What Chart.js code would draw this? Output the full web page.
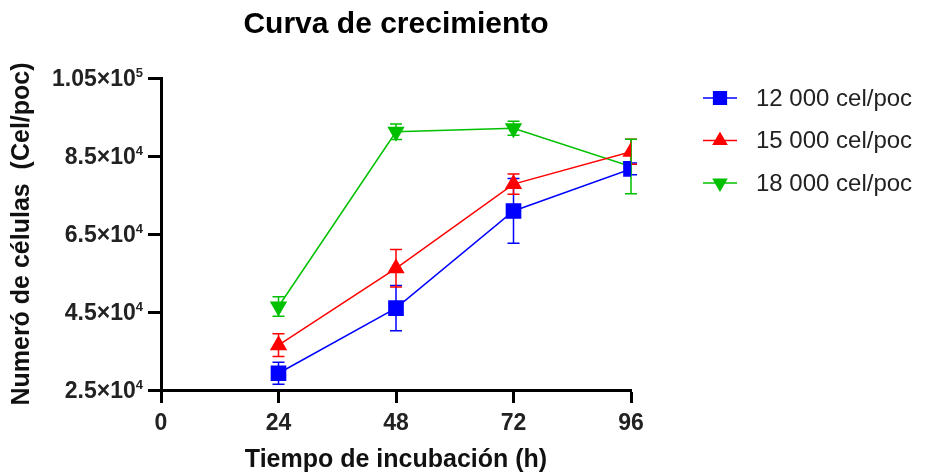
<!DOCTYPE html>
<html>
<head>
<meta charset="utf-8">
<script src="https://cdn.jsdelivr.net/npm/chart.js@4"></script>
<style>
  body { margin: 0; background: #fff; }
  #wrap { width: 928px; height: 472px; }
</style>
</head>
<body>
<div id="wrap"><canvas id="chart" width="928" height="472"></canvas></div>
<script>
// time points (h)
const hours = [24, 48, 72, 96];
const xTicks = [0, 24, 48, 72, 96];
const yTicks = [25000, 45000, 65000, 85000, 105000];
// tick labels: mantissa and power of ten
const yTickBase = ['2.5', '4.5', '6.5', '8.5', '1.05'];
const yTickExp = ['4', '4', '4', '4', '5'];

// mean cell counts and error (SD)
const cells12k = [29300, 46000, 70900, 81700];
const err12k = [2800, 5800, 8300, 1500];
const cells15k = [36500, 56200, 77800, 86100];
const err15k = [2900, 4800, 2600, 3200];
const cells18k = [46400, 91200, 92100, 82300];
const err18k = [2500, 2000, 1800, 7000];

const seriesNames = ['12 000 cel/poc', '15 000 cel/poc', '18 000 cel/poc'];
const seriesColors = ['#0000ff', '#ff0000', '#00c000'];
const seriesMarkers = ['rect', 'triangle', 'triangle'];

const FONT = '"Liberation Sans", Arial, sans-serif';
const toPoints = (vals) => vals.map((v, i) => ({ x: hours[i], y: v }));

// error bars drawn through the scales
const errorBars = {
  id: 'errorBars',
  beforeDatasetsDraw(chart) {
    const { ctx, scales: { x, y } } = chart;
    chart.data.datasets.forEach((ds) => {
      ctx.save();
      ctx.strokeStyle = ds.borderColor;
      ctx.lineWidth = 1.5;
      ds.data.forEach((p, i) => {
        const e = ds.errors[i];
        const px = x.getPixelForValue(p.x);
        const top = y.getPixelForValue(p.y + e);
        const bot = y.getPixelForValue(p.y - e);
        ctx.beginPath();
        ctx.moveTo(px, top); ctx.lineTo(px, bot);
        ctx.moveTo(px - 6, top); ctx.lineTo(px + 6, top);
        ctx.moveTo(px - 6, bot); ctx.lineTo(px + 6, bot);
        ctx.stroke();
      });
      ctx.restore();
    });
  }
};

// title, y tick labels with superscripts, legend with line through marker
const extras = {
  id: 'extras',
  afterDraw(chart) {
    const { ctx, chartArea, scales: { y } } = chart;
    ctx.save();
    ctx.fillStyle = '#000';
    ctx.font = 'bold 30px ' + FONT;
    ctx.textAlign = 'center';
    ctx.textBaseline = 'middle';
    ctx.fillText('Curva de crecimiento', (chartArea.left + chartArea.right) / 2, 25);

    // y tick labels
    ctx.fillStyle = '#222';
    ctx.textBaseline = 'alphabetic';
    yTicks.forEach((v, i) => {
      const py = y.getPixelForValue(v);
      const right = chartArea.left - 18;
      ctx.font = 'bold 13px ' + FONT;
      const ew = ctx.measureText(yTickExp[i]).width;
      ctx.textAlign = 'right';
      ctx.fillText(yTickExp[i], right, py - 1);
      ctx.font = 'bold 23px ' + FONT;
      ctx.fillText(yTickBase[i] + '×10', right - ew, py + 8);
    });

    ctx.textAlign = 'left';
    ctx.textBaseline = 'middle';
    ctx.font = '24px ' + FONT;
    chart.data.datasets.forEach((ds, i) => {
      const ly = 98 + i * 42.5;
      const lx = 703;
      ctx.strokeStyle = ds.borderColor;
      ctx.lineWidth = 1.5;
      ctx.beginPath();
      ctx.moveTo(lx, ly); ctx.lineTo(lx + 34, ly);
      ctx.stroke();
      ctx.fillStyle = ds.borderColor;
      Chart.helpers.drawPoint(ctx, {
        pointStyle: ds.pointStyle, radius: ds.pointStyle === 'rect' ? 9 : 7.5,
        rotation: ds.pointRotation || 0, borderWidth: 1
      }, lx + 17, ly);
      ctx.fillStyle = '#222';
      ctx.fillText(ds.label, lx + 53, ly + 1);
    });
    ctx.restore();
  }
};

const datasets = [cells12k, cells15k, cells18k].map((vals, i) => ({
  label: seriesNames[i],
  data: toPoints(vals),
  errors: [err12k, err15k, err18k][i],
  borderColor: seriesColors[i],
  backgroundColor: seriesColors[i],
  borderWidth: 1.5,
  pointStyle: seriesMarkers[i],
  pointRotation: i === 2 ? 180 : 0,
  pointRadius: i === 0 ? 10 : 8.5,
  pointHoverRadius: i === 0 ? 10 : 8.5,
  tension: 0
}));

new Chart(document.getElementById('chart'), {
  type: 'line',
  data: { datasets },
  options: {
    responsive: false,
    animation: false,
    layout: { padding: { top: 78, right: 297, bottom: 0, left: 0 } },
    plugins: { legend: { display: false }, tooltip: { enabled: false } },
    scales: {
      x: {
        type: 'linear',
        min: 0, max: 96,
        afterBuildTicks: (s) => { s.ticks = xTicks.map(v => ({ value: v })); },
        afterFit: (s) => { s.height = 82; },
        grid: { display: true, drawOnChartArea: false, drawTicks: true, tickLength: 13, tickColor: '#000', tickWidth: 3 },
        border: { color: '#000', width: 3 },
        ticks: {
          color: '#222', padding: 7,
          font: { family: '"Liberation Sans Narrow", ' + FONT, size: 23, weight: 'bold' }
        },
        title: {
          display: true, text: 'Tiempo de incubación (h)', color: '#111',
          font: { family: FONT, size: 25, weight: 'bold' },
          padding: { top: 0, bottom: -3 }
        }
      },
      y: {
        min: 25000, max: 105000,
        afterBuildTicks: (s) => { s.ticks = yTicks.map(v => ({ value: v })); },
        afterFit: (s) => { s.width = 161; },
        grid: { display: true, drawOnChartArea: false, drawTicks: true, tickLength: 13, tickColor: '#000', tickWidth: 3 },
        border: { color: '#000', width: 3 },
        ticks: {
          // labels drawn by the extras plugin with real superscripts
          display: false
        },
        title: {
          display: true, text: 'Numeró de células  (Cel/poc)', color: '#111',
          font: { family: FONT, size: 25, weight: 'bold' },
          padding: { top: 7, bottom: 0 }
        }
      }
    }
  },
  plugins: [errorBars, extras]
});
</script>
</body>
</html>
